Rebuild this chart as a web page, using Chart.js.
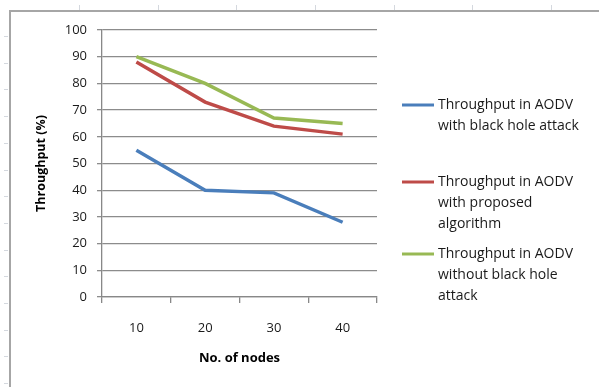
<!DOCTYPE html>
<html>
<head>
<meta charset="utf-8">
<script src="https://cdn.jsdelivr.net/npm/chart.js@4.4.0/dist/chart.umd.min.js"></script>
<style>
html,body{margin:0;padding:0;background:#fff;}
#wrap{width:599px;height:387px;position:relative;}
</style>
</head>
<body>
<div id="wrap"><canvas id="c" width="599" height="387"></canvas></div>
<script>
const categories = ["10", "20", "30", "40"];
const blackHole = [55, 40, 39, 28];
const proposed = [88, 73, 64, 61];
const noBlackHole = [90, 80, 67, 65];
const yTicks = [0, 10, 20, 30, 40, 50, 60, 70, 80, 90, 100];
const seriesLabels = [
  ["Throughput in AODV", "with black hole attack"],
  ["Throughput in AODV", "with proposed", "algorithm"],
  ["Throughput in AODV", "without black hole", "attack"]
];
const colors = ["#4A7EBB", "#BE4B48", "#98B954"];
const FONT = "'Open Sans', 'Liberation Sans', sans-serif";

const frame = {
  id: 'frame',
  beforeDraw(chart) {
    const ctx = chart.ctx;
    ctx.save();
    ctx.fillStyle = '#fff';
    ctx.fillRect(0, 0, chart.width, chart.height);
    ctx.strokeStyle = '#d4d8de';
    ctx.lineWidth = 1;
    for (let x = 79; x < chart.width; x += 78.7) {
      ctx.beginPath(); ctx.moveTo(Math.round(x) + 0.5, 5); ctx.lineTo(Math.round(x) + 0.5, 10); ctx.stroke();
    }
    for (let y = 36; y < chart.height; y += 26.7) {
      ctx.beginPath(); ctx.moveTo(4, Math.round(y) + 0.5); ctx.lineTo(8, Math.round(y) + 0.5); ctx.stroke();
    }
    ctx.strokeStyle = '#a6a6a6';
    ctx.lineWidth = 2;
    ctx.beginPath();
    ctx.moveTo(10, chart.height + 2);
    ctx.lineTo(10, 11);
    ctx.lineTo(chart.width + 2, 11);
    ctx.stroke();
    ctx.restore();
  },
  afterDraw(chart) {
    const ctx = chart.ctx;
    ctx.save();
    const starts = [105, 182, 254];
    const lh = 21;
    ctx.font = "14px " + FONT;
    ctx.textBaseline = 'middle';
    ctx.fillStyle = '#1a1a1a';
    chart.data.datasets.forEach((ds, i) => {
      const y0 = starts[i];
      ctx.strokeStyle = ds.borderColor;
      ctx.lineWidth = 3;
      ctx.beginPath(); ctx.moveTo(402, y0); ctx.lineTo(434, y0); ctx.stroke();
      seriesLabels[i].forEach((t, k) => {
        ctx.fillText(t, 438, y0 + k * lh);
      });
    });
    ctx.restore();
  }
};

const datasets = [blackHole, proposed, noBlackHole].map((d, i) => ({
  label: seriesLabels[i].join(' '),
  data: d,
  borderColor: colors[i],
  backgroundColor: colors[i],
  borderWidth: 3.5,
  pointRadius: 0,
  tension: 0,
  fill: false
}));

new Chart(document.getElementById('c'), {
  type: 'line',
  data: { labels: categories, datasets },
  options: {
    responsive: false,
    animation: false,
    devicePixelRatio: 1,
    layout: { padding: { left: 30, right: 222, top: 30, bottom: 0 } },
    plugins: { legend: { display: false }, tooltip: { enabled: false } },
    scales: {
      x: {
        type: 'category',
        offset: true,
        grid: { offset: true, drawOnChartArea: false, drawTicks: true, tickLength: 6, color: '#888', lineWidth: 1.3 },
        border: { display: true, color: '#888', width: 1.3 },
        ticks: { padding: 17, color: '#1a1a1a', font: { family: FONT, size: 13 }, maxRotation: 0 },
        title: { display: true, text: 'No. of nodes', color: '#000', font: { family: FONT, size: 13, weight: 'bold' }, padding: { top: 8, bottom: 21 } },
        afterFit(s) { s.height = 90; }
      },
      y: {
        min: 0, max: 100,
        afterBuildTicks(s) { s.ticks = yTicks.map(v => ({ value: v })); },
        grid: { color: '#8c8c8c', lineWidth: 1.3, tickLength: 5 },
        border: { display: true, color: '#888', width: 1.3 },
        ticks: { padding: 10, color: '#1a1a1a', font: { family: FONT, size: 13 } },
        title: { display: true, text: 'Throughput (%)', color: '#000', font: { family: FONT, size: 12.5, weight: 'bold' }, padding: { top: 4, bottom: 4 } },
        afterFit(s) { s.width = 72; }
      }
    }
  },
  plugins: [frame]
});
</script>
</body>
</html>
